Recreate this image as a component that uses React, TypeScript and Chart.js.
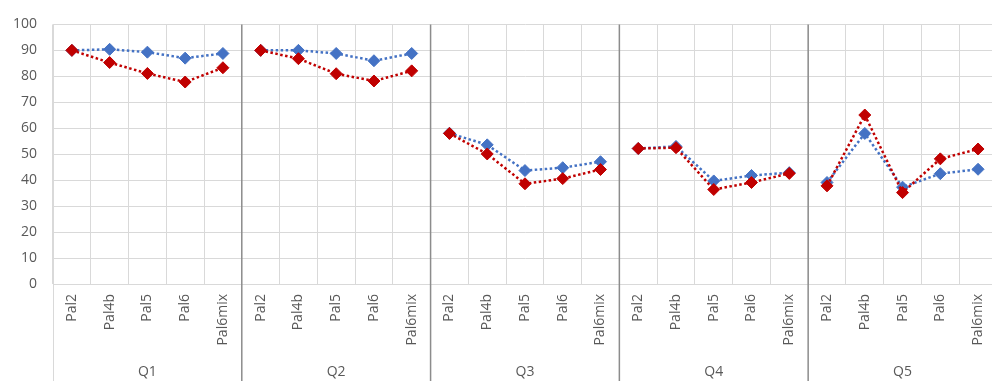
import React, { useEffect, useRef } from "react";
import { Chart, registerables } from "chart.js";

Chart.register(...registerables);

const groups = ["Q1", "Q2", "Q3", "Q4", "Q5"];
const palettes = ["Pal2", "Pal4b", "Pal5", "Pal6", "Pal6mix"];
const yTicks = [0, 10, 20, 30, 40, 50, 60, 70, 80, 90, 100];

const blueValues = [
  90.0, 90.4, 89.3, 87.0, 88.8,
  90.0, 90.0, 88.8, 86.0, 88.8,
  58.1, 53.6, 43.7, 44.8, 47.1,
  52.2, 53.0, 39.7, 41.8, 42.9,
  39.1, 58.0, 37.3, 42.5, 44.2,
];
const redValues = [
  90.0, 85.3, 81.1, 77.8, 83.3,
  90.0, 86.8, 81.0, 78.2, 82.1,
  58.0, 50.1, 38.6, 40.6, 44.1,
  52.2, 52.5, 36.4, 39.1, 42.6,
  37.8, 65.1, 35.2, 48.2, 52.0,
];

const labels: string[] = [];
groups.forEach((g) => palettes.forEach((p) => labels.push(p)));

const BLUE = "#4472C4";
const RED = "#C00000";
const TEXT = "#595959";
const GRID = "#d9d9d9";
const SEP = "#8c8c8c";
const FONT = "'Open Sans', sans-serif";

const groupPlugin = {
  id: "groupPlugin",
  beforeDatasetsDraw(chart: any) {
    const ctx = chart.ctx;
    const x = chart.scales.x;
    const area = chart.chartArea;
    const n = palettes.length;
    ctx.save();
    ctx.strokeStyle = GRID;
    ctx.lineWidth = 1;
    ctx.beginPath();
    ctx.moveTo(Math.round(area.left) + 0.5, area.top);
    ctx.lineTo(Math.round(area.left) + 0.5, chart.height);
    ctx.stroke();
    ctx.strokeStyle = SEP;
    ctx.lineWidth = 1.5;
    for (let g = 1; g < groups.length; g++) {
      const a = x.getPixelForValue(g * n - 1);
      const b = x.getPixelForValue(g * n);
      const px = (a + b) / 2;
      ctx.beginPath();
      ctx.moveTo(px, area.top);
      ctx.lineTo(px, chart.height);
      ctx.stroke();
    }
    ctx.restore();
  },
  afterDraw(chart: any) {
    const ctx = chart.ctx;
    const x = chart.scales.x;
    const n = palettes.length;
    ctx.save();
    ctx.fillStyle = TEXT;
    ctx.font = `14px ${FONT}`;
    ctx.textAlign = "center";
    ctx.textBaseline = "middle";
    groups.forEach((g, i) => {
      const a = x.getPixelForValue(i * n);
      const b = x.getPixelForValue(i * n + n - 1);
      ctx.fillText(g, (a + b) / 2, 372);
    });
    ctx.restore();
  },
};

const segColor = (color: string) => (c: any) =>
  c.p0DataIndex % palettes.length === palettes.length - 1 ? "rgba(0,0,0,0)" : color;

export default function App() {
  const ref = useRef<HTMLCanvasElement | null>(null);
  useEffect(() => {
    if (!ref.current) return;
    const chart = new Chart(ref.current, {
      type: "line",
      data: {
        labels,
        datasets: [
          {
            label: "Series 2",
            data: redValues,
            borderColor: RED,
            backgroundColor: RED,
            borderWidth: 2.5,
            borderDash: [2.5, 2.5],
            pointStyle: "rectRot",
            pointRadius: 6,
            pointBorderWidth: 1,
            pointBackgroundColor: RED,
            pointBorderColor: RED,
            order: 0,
            segment: { borderColor: segColor(RED) },
          },
          {
            label: "Series 1",
            data: blueValues,
            borderColor: BLUE,
            backgroundColor: BLUE,
            borderWidth: 2.5,
            borderDash: [2.5, 2.5],
            pointStyle: "rectRot",
            pointRadius: 6,
            pointBorderWidth: 1,
            pointBackgroundColor: BLUE,
            pointBorderColor: BLUE,
            order: 1,
            segment: { borderColor: segColor(BLUE) },
          },
        ],
      },
      options: {
        responsive: false,
        animation: false,
        devicePixelRatio: 1,
        layout: { padding: { top: 23, right: 2, left: 0, bottom: 0 } },
        plugins: {
          legend: { display: false },
          tooltip: { enabled: false },
        },
        scales: {
          x: {
            type: "category",
            offset: true,
            grid: { color: GRID, drawTicks: false, offset: true },
            border: { color: GRID },
            ticks: {
              color: TEXT,
              font: { family: FONT, size: 14 },
              minRotation: 90,
              maxRotation: 90,
              autoSkip: false,
              padding: 10,
            },
            afterFit: (s: any) => {
              s.height = 97;
            },
          },
          y: {
            min: 0,
            max: 100,
            afterBuildTicks: (s: any) => {
              s.ticks = yTicks.map((v) => ({ value: v }));
            },
            grid: { color: GRID, drawTicks: false },
            border: { color: GRID },
            ticks: {
              color: TEXT,
              font: { family: FONT, size: 14 },
              padding: 16,
            },
            afterFit: (s: any) => {
              s.width = 53;
            },
          },
        },
      },
      plugins: [groupPlugin],
    });
    return () => chart.destroy();
  }, []);
  return (
    <div
      style={{
        position: "absolute",
        left: 0,
        top: 0,
        width: 992,
        height: 381,
        overflow: "hidden",
        background: "#fff",
      }}
    >
      <canvas ref={ref} width={1005} height={381} style={{ display: "block" }} />
    </div>
  );
}
